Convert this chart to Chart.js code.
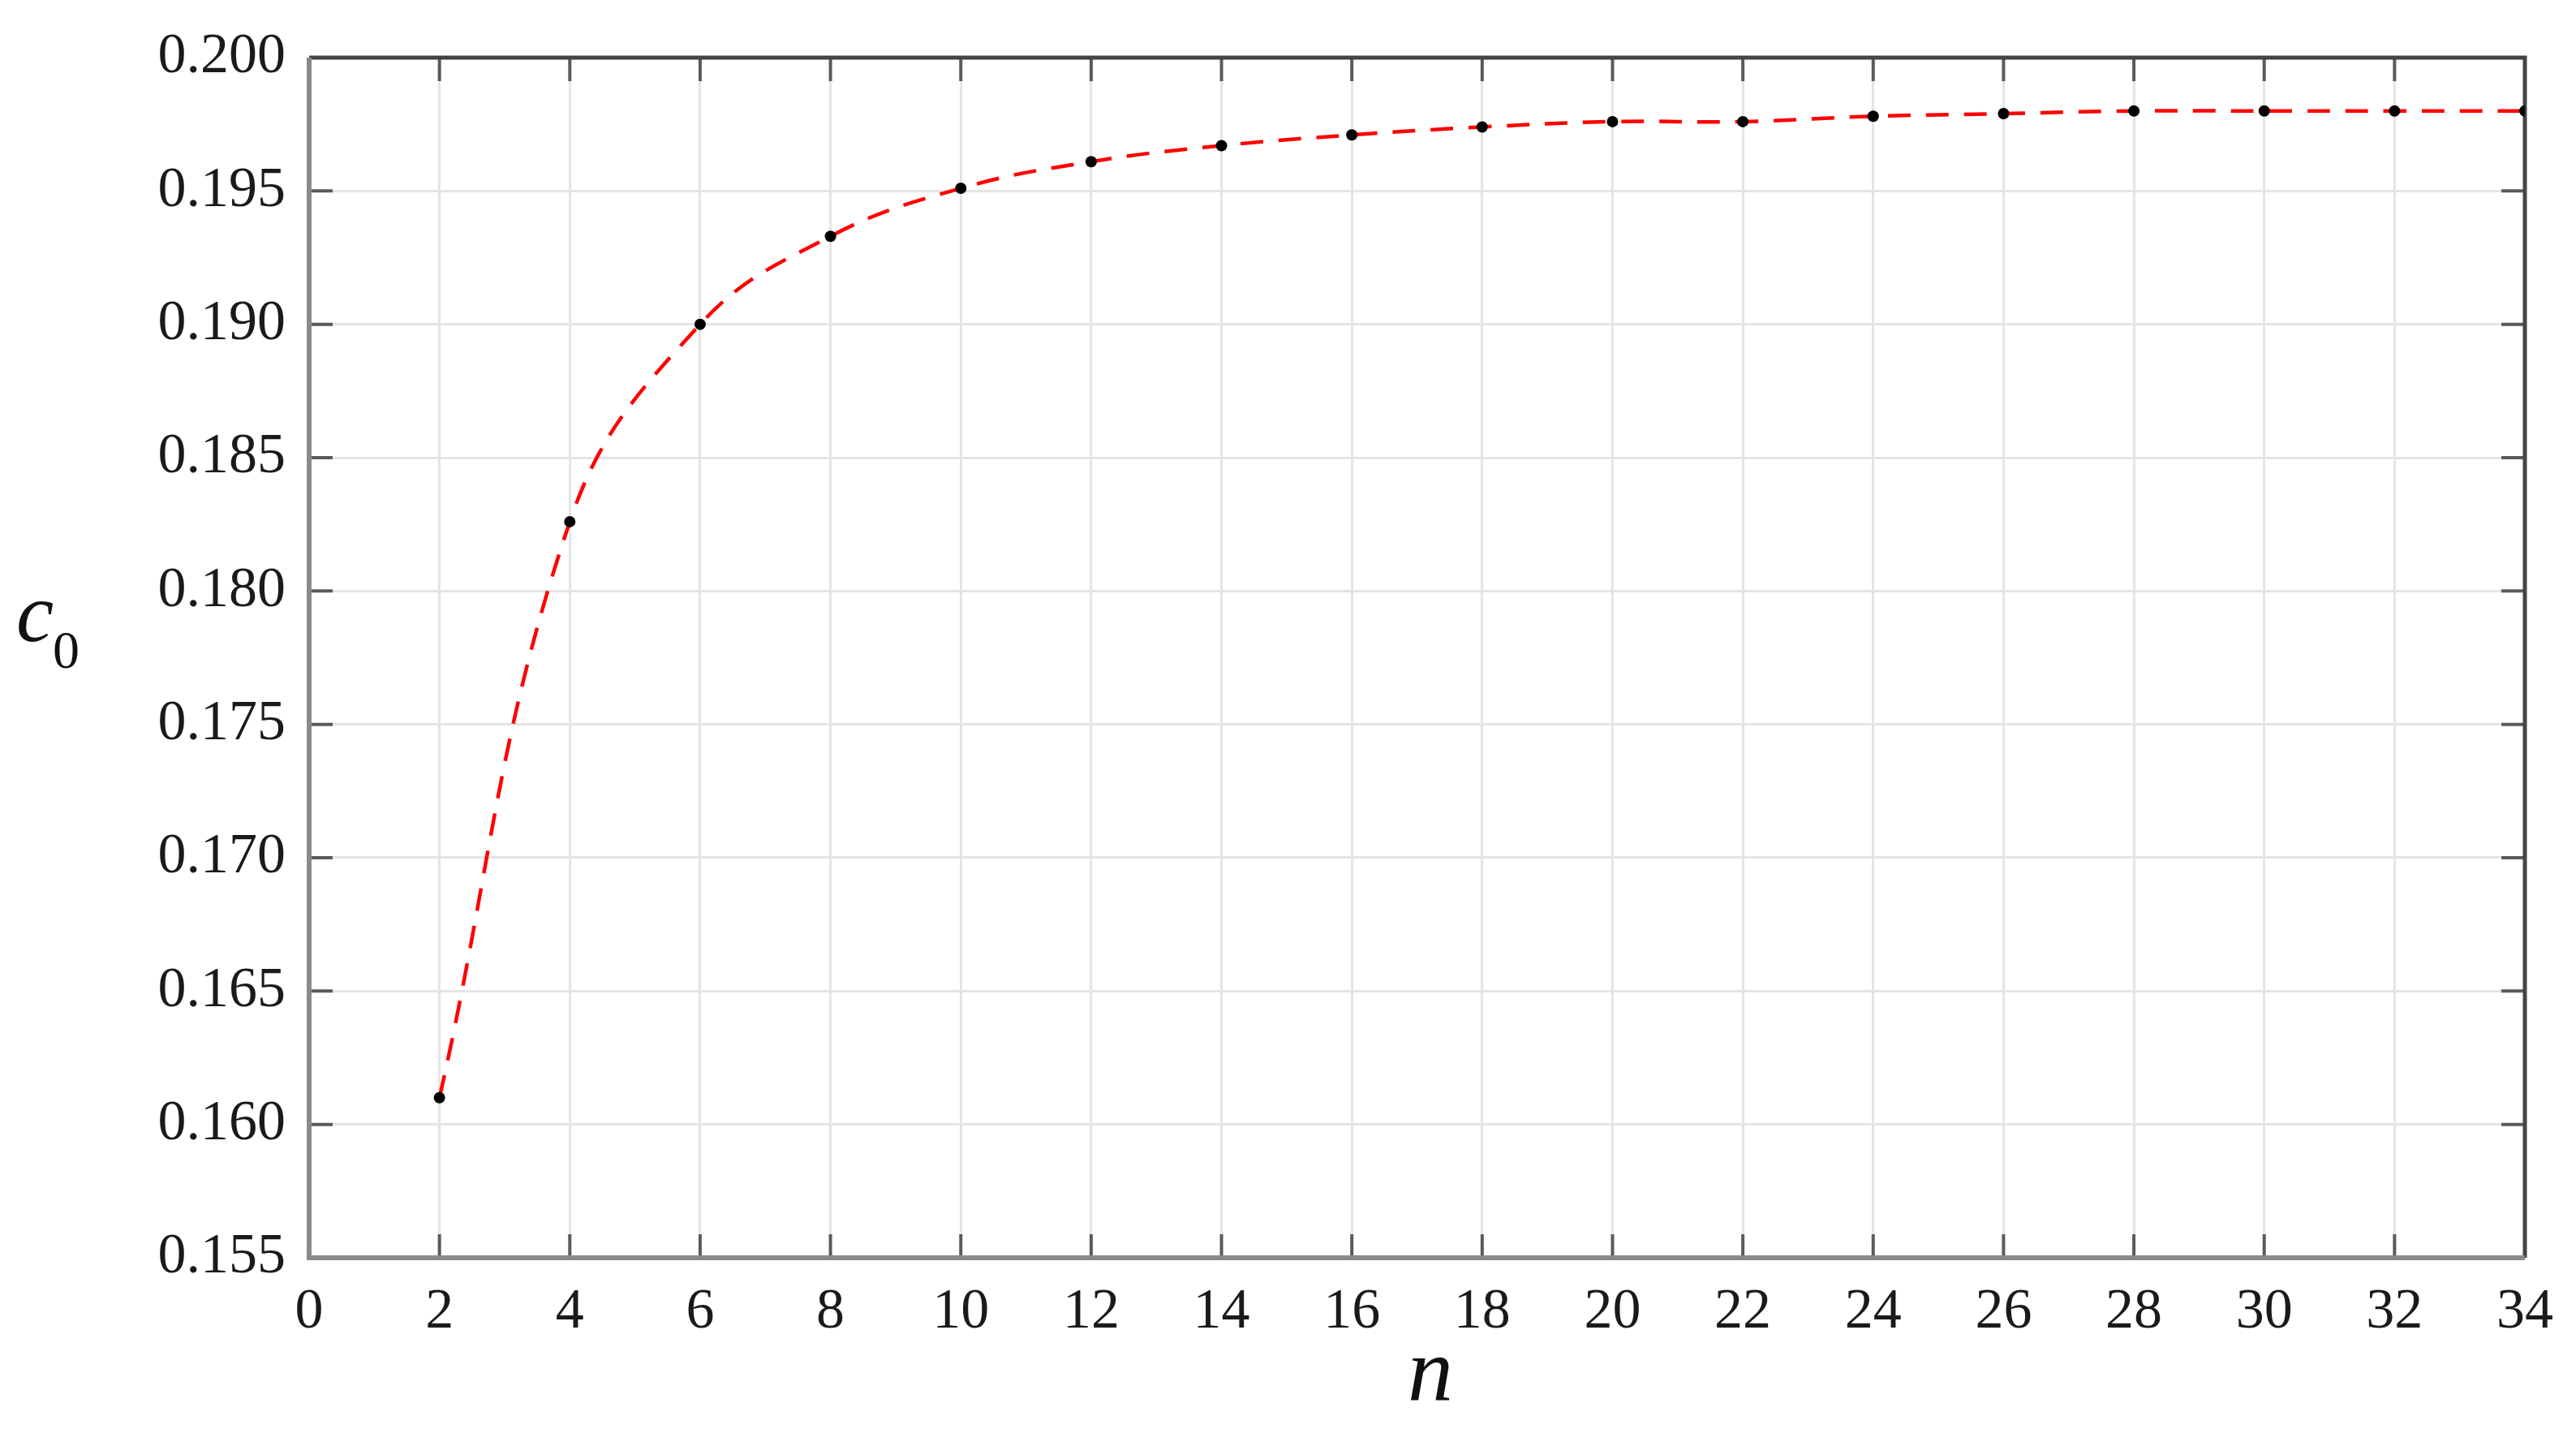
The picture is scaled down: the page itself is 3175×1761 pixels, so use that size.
<!DOCTYPE html>
<html>
<head>
<meta charset="utf-8">
<script src="https://cdn.jsdelivr.net/npm/chart.js@4/dist/chart.umd.min.js"></script>
<style>
  html, body { margin: 0; padding: 0; background: #ffffff; }
  #wrap { width: 3175px; height: 1761px; position: relative; }
</style>
</head>
<body>
<div id="wrap"><canvas id="c" width="3175" height="1761"></canvas></div>
<script>
// ---- data ----
const nValues = [2, 4, 6, 8, 10, 12, 14, 16, 18, 20, 22, 24, 26, 28, 30, 32, 34];
const c0Values = [0.1610, 0.1826, 0.1900, 0.1933, 0.1951, 0.1961, 0.1967, 0.1971, 0.1974,
                  0.1976, 0.1976, 0.1978, 0.1979, 0.1980, 0.1980, 0.1980, 0.1980];
const xTickValues = [0, 2, 4, 6, 8, 10, 12, 14, 16, 18, 20, 22, 24, 26, 28, 30, 32, 34];
const yTickValues = [0.155, 0.160, 0.165, 0.170, 0.175, 0.180, 0.185, 0.190, 0.195, 0.200];
const xTitle = 'n';
const yTitleMain = 'c';
const yTitleSub = '0';

const points = nValues.map((n, i) => ({ x: n, y: c0Values[i] }));

const frame = {
  id: 'frame',
  beforeDatasetsDraw(chart) {
    const { ctx, chartArea: a, scales } = chart;
    ctx.save();
    // inward tick marks on all four sides
    ctx.strokeStyle = '#5a5a5a';
    ctx.lineWidth = 4;
    const tl = 29;
    xTickValues.forEach(v => {
      const px = scales.x.getPixelForValue(v);
      ctx.beginPath();
      ctx.moveTo(px, a.bottom); ctx.lineTo(px, a.bottom - tl);
      ctx.moveTo(px, a.top); ctx.lineTo(px, a.top + tl);
      ctx.stroke();
    });
    yTickValues.forEach(v => {
      const py = scales.y.getPixelForValue(v);
      ctx.beginPath();
      ctx.moveTo(a.left, py); ctx.lineTo(a.left + tl, py);
      ctx.moveTo(a.right, py); ctx.lineTo(a.right - tl, py);
      ctx.stroke();
    });
    // top and right border (dark)
    ctx.strokeStyle = '#444444';
    ctx.lineWidth = 5;
    ctx.beginPath();
    ctx.moveTo(a.left, a.top); ctx.lineTo(a.right, a.top); ctx.lineTo(a.right, a.bottom);
    ctx.stroke();
    // left and bottom border (gray)
    ctx.strokeStyle = '#8a8a8a';
    ctx.lineWidth = 6;
    ctx.beginPath();
    ctx.moveTo(a.left, a.top); ctx.lineTo(a.left, a.bottom); ctx.lineTo(a.right, a.bottom);
    ctx.stroke();
    ctx.restore();
  },
  afterDraw(chart) {
    const { ctx } = chart;
    ctx.save();
    ctx.fillStyle = '#111111';
    ctx.textBaseline = 'alphabetic';
    // x axis title
    ctx.font = 'italic 112px "Liberation Serif"';
    ctx.textAlign = 'center';
    ctx.fillText(xTitle, 1763, 1726);
    // y axis title c0
    ctx.textAlign = 'left';
    ctx.font = 'italic 104px "Liberation Serif"';
    ctx.fillText(yTitleMain, 20, 790);
    ctx.font = '66px "Liberation Serif"';
    ctx.fillText(yTitleSub, 65, 823);
    ctx.restore();
  }
};

new Chart(document.getElementById('c'), {
  type: 'line',
  data: {
    datasets: [{
      data: points,
      borderColor: '#ff0000',
      borderWidth: 4.5,
      borderDash: [28, 19],
      tension: 0.4,
      pointRadius: 7,
      pointBackgroundColor: '#000000',
      pointBorderColor: '#000000',
      pointBorderWidth: 0,
      fill: false
    }]
  },
  options: {
    responsive: false,
    animation: false,
    events: [],
    layout: { padding: { left: 0, top: 68, right: 63, bottom: 0 } },
    plugins: { legend: { display: false }, tooltip: { enabled: false } },
    scales: {
      x: {
        type: 'linear',
        min: 0, max: 34,
        afterBuildTicks(scale) { scale.ticks = xTickValues.map(v => ({ value: v })); },
        afterFit(scale) { scale.height = 211; },
        grid: { color: '#e4e4e4', lineWidth: 3, drawTicks: false },
        border: { display: false },
        ticks: {
          padding: 26,
          color: '#1a1a1a',
          font: { family: 'Liberation Serif', size: 70 },
          maxRotation: 0,
          autoSkip: false,
          callback: v => String(v)
        }
      },
      y: {
        type: 'linear',
        min: 0.155, max: 0.2,
        afterBuildTicks(scale) { scale.ticks = yTickValues.map(v => ({ value: v })); },
        afterFit(scale) { scale.width = 381; },
        grid: { color: '#e4e4e4', lineWidth: 3, drawTicks: false },
        border: { display: false },
        ticks: {
          padding: 29,
          color: '#1a1a1a',
          font: { family: 'Liberation Serif', size: 70 },
          autoSkip: false,
          callback: v => Number(v).toFixed(3)
        }
      }
    }
  },
  plugins: [frame]
});
</script>
</body>
</html>
